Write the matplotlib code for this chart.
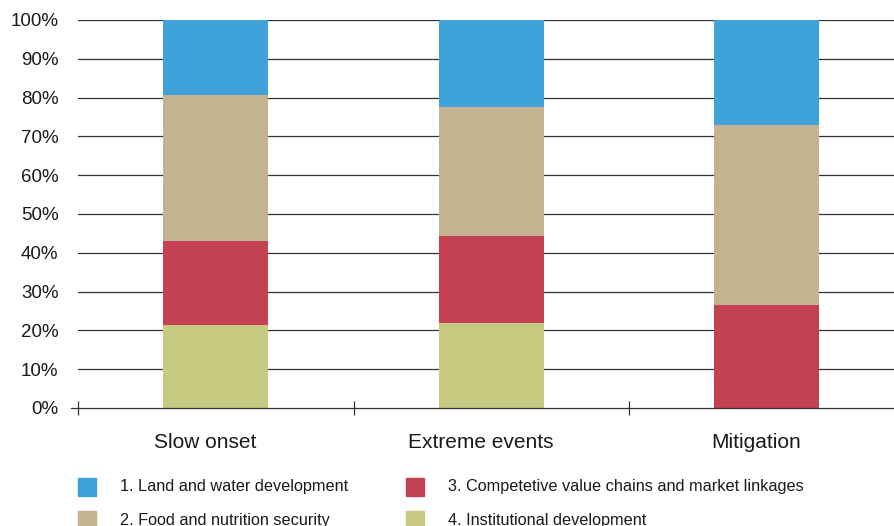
import matplotlib
matplotlib.use("Agg")
import matplotlib.pyplot as plt
from matplotlib.patches import Rectangle
import numpy as np

plt.rcParams['font.family'] = ['Liberation Sans', 'DejaVu Sans']

categories = ["Slow onset", "Extreme events", "Mitigation"]
series_names = ["1. Land and water development",
                "2. Food and nutrition security",
                "3. Competetive value chains and market linkages",
                "4. Institutional development"]
institutional = [21.4, 21.9, 0.0]
value_chains = [21.6, 22.4, 26.5]
food = [37.7, 33.3, 46.4]
land_water = [19.3, 22.4, 27.1]
colors = {"land": "#3fa2d9", "food": "#c4b391", "value": "#c24152", "inst": "#c6cb81"}
yticks = [0, 10, 20, 30, 40, 50, 60, 70, 80, 90, 100]

W, H = 894, 526
fig = plt.figure(figsize=(W / 100, H / 100), dpi=100)
ax = fig.add_axes([78 / W, (H - 408) / H, 826.5 / W, 388 / H])

x = np.arange(len(categories))
bw = 0.381
bottom = np.zeros(len(categories))
stack = [(institutional, colors["inst"]), (value_chains, colors["value"]),
         (food, colors["food"]), (land_water, colors["land"])]
for vals, c in stack:
    ax.bar(x, vals, bw, bottom=bottom, color=c, zorder=3, linewidth=0)
    bottom += np.array(vals)

ax.set_xlim(-0.5, 2.5)
ax.set_ylim(0, 100)
for s in ax.spines.values():
    s.set_visible(False)
for t in yticks[1:]:
    ax.axhline(t, color='#333333', lw=0.9, zorder=1)
ax.plot([-0.008, 1], [0, 0], transform=ax.get_yaxis_transform(), color='#333333',
        lw=0.9, clip_on=False, zorder=4)

ax.set_yticks(yticks)
ax.set_yticklabels([f"{t}%" for t in yticks], fontsize=13.5, color='#1a1a1a')
ax.tick_params(axis='y', length=0, pad=14)

ax.set_xticks(x - 0.037)
ax.set_xticklabels(categories, fontsize=15, color='#1a1a1a')
ax.tick_params(axis='x', which='major', length=0, pad=18)
ax.set_xticks([-0.5, 0.5, 1.5], minor=True)
ax.tick_params(axis='x', which='minor', direction='inout', length=10, width=0.9,
               color='#333333')

# legend
leg = [(series_names[0], colors["land"], 78, 487),
       (series_names[1], colors["food"], 78, 520),
       (series_names[2], colors["value"], 406, 487),
       (series_names[3], colors["inst"], 406, 520)]
for label, c, px, py in leg:
    fig.patches.append(Rectangle((px / W, (H - py - 9) / H), 18 / W, 18 / H,
                                 transform=fig.transFigure, color=c))
    fig.text((px + 42) / W, (H - py) / H, label, fontsize=11.7, va='center',
             ha='left', color='#1a1a1a')

fig.savefig("out.png", dpi=100)
